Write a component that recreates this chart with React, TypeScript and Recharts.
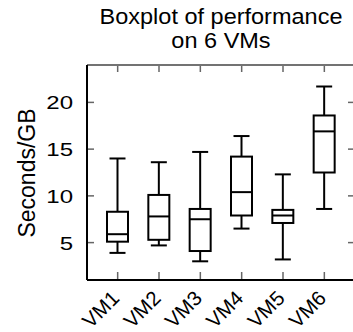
import { ComposedChart, Bar, XAxis, YAxis } from 'recharts'

const vms = ['VM1', 'VM2', 'VM3', 'VM4', 'VM5', 'VM6']
const whiskerLow = [3.9, 4.7, 3.0, 6.5, 3.2, 8.6]
const q1 = [5.1, 5.3, 4.1, 7.9, 7.1, 12.5]
const median = [5.9, 7.8, 7.5, 10.4, 7.9, 16.9]
const q3 = [8.3, 10.1, 8.6, 14.2, 8.5, 18.6]
const whiskerHigh = [14.0, 13.6, 14.7, 16.4, 12.3, 21.7]
const yTicks = [5, 10, 15, 20]

const data = vms.map((name, i) => ({
  name,
  range: [whiskerLow[i], whiskerHigh[i]],
  low: whiskerLow[i],
  q1: q1[i],
  median: median[i],
  q3: q3[i],
  high: whiskerHigh[i],
}))

const FONT = '"Liberation Sans", Arial, Helvetica, sans-serif'
const TICK = '#666'
// the reference's number labels look a little squashed vertically
const SQUASH = 0.8

function BoxShape(props: any) {
  const { x, y, width, height, payload } = props
  const top = Math.min(y, y + height)
  const bottom = Math.max(y, y + height)
  const { low, high } = payload
  // map values inside the bar's own pixel span
  const py = (v: number) => bottom - ((v - low) / (high - low)) * (bottom - top)
  const cx = x + width / 2
  const half = width / 2
  const cap = 8
  return (
    <g stroke="#000" strokeWidth={2} fill="none">
      <line x1={cx} x2={cx} y1={py(high)} y2={py(payload.q3)} />
      <line x1={cx} x2={cx} y1={py(payload.q1)} y2={py(low)} />
      <line x1={cx - cap} x2={cx + cap} y1={py(high)} y2={py(high)} />
      <line x1={cx - cap} x2={cx + cap} y1={py(low)} y2={py(low)} />
      <rect x={cx - half} y={py(payload.q3)} width={width} height={py(payload.q1) - py(payload.q3)} fill="#fff" />
      <line x1={cx - half} x2={cx + half} y1={py(payload.median)} y2={py(payload.median)} />
    </g>
  )
}

function BottomTick({ x, y, payload }: any) {
  return (
    <g>
      <line x1={x} x2={x} y1={y - 1} y2={y - 8} stroke={TICK} strokeWidth={1.5} />
      <text
        transform={`translate(${x + 3},${y + 19.5}) rotate(-45)`}
        textAnchor="end"
        fontSize={20.5}
        fontFamily={FONT}
        fill="#000"
      >
        {payload.value}
      </text>
    </g>
  )
}

function TopTick({ x, y }: any) {
  return <line x1={x} x2={x} y1={y + 1} y2={y + 7} stroke={TICK} strokeWidth={1.5} />
}

function LeftTick({ x, y, payload }: any) {
  return (
    <g>
      <line x1={x + 1} x2={x + 7} y1={y} y2={y} stroke={TICK} strokeWidth={1.5} />
      <text
        transform={`translate(${x - 14},${y + 6.9}) scale(1,${SQUASH})`}
        textAnchor="end"
        fontSize={24}
        fontFamily={FONT}
        fill="#000"
      >
        {payload.value}
      </text>
    </g>
  )
}

function RightTick({ x, y }: any) {
  return <line x1={x - 1} x2={x - 7} y1={y} y2={y} stroke={TICK} strokeWidth={1.5} />
}

export default function App() {
  return (
    <div style={{ position: 'fixed', left: 0, top: 0, width: 353, height: 332, overflow: 'hidden', background: '#fff' }}>
      <ComposedChart width={360} height={332} data={data} margin={{ top: 0, right: 0, bottom: 0, left: 0 }}>
        <XAxis
          dataKey="name"
          height={52}
          padding={{ left: 10, right: 10 }}
          axisLine={{ stroke: '#000', strokeWidth: 2 }}
          tickLine={false}
          tickSize={0}
          tickMargin={0}
          interval={0}
          tick={<BottomTick />}
        />
        <XAxis
          xAxisId="top"
          orientation="top"
          dataKey="name"
          height={65}
          padding={{ left: 10, right: 10 }}
          axisLine={{ stroke: '#444', strokeWidth: 1.5 }}
          tickLine={false}
          tickSize={0}
          tickMargin={0}
          interval={0}
          tick={<TopTick />}
        />
        <YAxis
          type="number"
          domain={[1, 24]}
          ticks={yTicks}
          width={87}
          allowDataOverflow
          axisLine={{ stroke: '#000', strokeWidth: 2 }}
          tickLine={false}
          tickSize={0}
          tickMargin={0}
          tick={<LeftTick />}
        />
        <YAxis
          yAxisId="right"
          orientation="right"
          type="number"
          domain={[1, 24]}
          ticks={yTicks}
          width={5}
          allowDataOverflow
          axisLine={{ stroke: '#444', strokeWidth: 1.5 }}
          tickLine={false}
          tickSize={0}
          tickMargin={0}
          tick={<RightTick />}
        />
        <Bar dataKey="range" barSize={21} shape={<BoxShape />} isAnimationActive={false} />
      </ComposedChart>
      <svg
        width={353}
        height={332}
        style={{ position: 'absolute', left: 0, top: 0, pointerEvents: 'none' }}
        fontFamily={FONT}
      >
        <text transform="translate(221,24) scale(1,0.93)" textAnchor="middle" fontSize={23.5} fill="#000">
          Boxplot of performance
        </text>
        <text transform="translate(221,48) scale(1,0.93)" textAnchor="middle" fontSize={23.5} fill="#000">
          on 6 VMs
        </text>
        <text transform="translate(35,173) rotate(-90)" textAnchor="middle" fontSize={23} fill="#000">
          Seconds/GB
        </text>
      </svg>
    </div>
  )
}
